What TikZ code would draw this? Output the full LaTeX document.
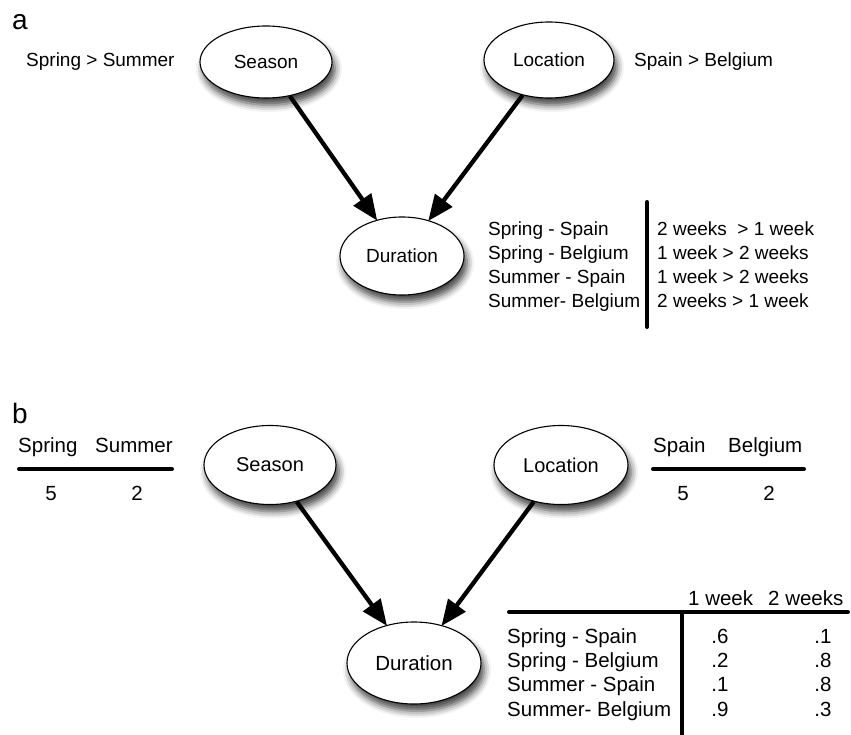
\documentclass[tikz,border=0pt]{standalone}
\usepackage{fontspec}
\setmainfont{Liberation Sans}
\usetikzlibrary{shapes.geometric,arrows.meta,shadows.blur}
\begin{document}
\begin{tikzpicture}[x=1pt,y=-1pt,
  fa/.style={font=\fontsize{19}{22}\selectfont, inner sep=0pt},
  fb/.style={font=\fontsize{20.5}{24}\selectfont, inner sep=0pt},
  bubble/.style={ellipse, draw, line width=1.1pt, fill=white, inner sep=0pt,
    blur shadow={shadow xshift=3pt, shadow yshift=-7pt, shadow blur radius=7pt, shadow opacity=75}},
  arr/.style={line width=4.3pt, -{Triangle[length=26pt,width=21pt]}, shorten >=-1pt},
  rule/.style={line width=4pt, line cap=round},
  lbl/.style={font=\fontsize{28}{30}\selectfont, inner sep=0pt, anchor=base west}
]
\useasboundingbox (0,0) rectangle (851,735);

% ---------------- panel a ----------------
\node[lbl] (la) at (12,30) {a};
\node[bubble, fa, minimum width=132pt, minimum height=72pt] (seasonA) at (266,62) {Season};
\node[bubble, fa, minimum width=130pt, minimum height=76pt] (locA) at (549,60) {Location};
\node[bubble, fa, minimum width=124pt, minimum height=78pt] (durA) at (402,256) {Duration};
\node[fa, anchor=base west] (ssA) at (26,67) {Spring > Summer};
\node[fa, anchor=base west] (sbA) at (634,67) {Spain > Belgium};
\draw[arr] (seasonA) -- (durA);
\draw[arr] (locA) -- (durA);

\node[fa, anchor=base west] (ra1) at (488,236) {Spring - Spain};
\node[fa, anchor=base west] (ra2) at (488,260) {Spring - Belgium};
\node[fa, anchor=base west] (ra3) at (488,283.5) {Summer - Spain};
\node[fa, anchor=base west] (ra4) at (488,307) {Summer- Belgium};
\node[fa, anchor=base west] (va1) at (657,236) {2 weeks \ > 1 week};
\node[fa, anchor=base west] (va2) at (657,260) {1 week > 2 weeks};
\node[fa, anchor=base west] (va3) at (657,283.5) {1 week > 2 weeks};
\node[fa, anchor=base west] (va4) at (657,307) {2 weeks > 1 week};
\coordinate (vtA) at (647,202);
\coordinate (vbA) at (647,327);
\draw[rule] (vtA) -- (vbA);

% ---------------- panel b ----------------
\node[lbl] (lb) at (12,423) {b};
\node[bubble, fa, font=\fontsize{20}{24}\selectfont, minimum width=132pt, minimum height=79pt] (seasonB) at (270,465) {Season};
\node[bubble, fa, font=\fontsize{20}{24}\selectfont, minimum width=134pt, minimum height=79pt] (locB) at (561,465) {Location};
\node[bubble, fb, minimum width=134pt, minimum height=82pt] (durB) at (414,663) {Duration};
\draw[arr] (seasonB) -- (durB);
\draw[arr] (locB) -- (durB);

% Season prior
\node[fb, anchor=base west] (spB) at (18,452) {Spring};
\node[fb, anchor=base west] (suB) at (95,452) {Summer};
\coordinate (s1) at (19,469);
\coordinate (s2) at (172,469);
\draw[rule] (s1) -- (s2);
\node[fb, anchor=base] (p5) at (51,500) {5};
\node[fb, anchor=base] (p2) at (137,500) {2};

% Location prior
\node[fb, anchor=base west] (spnB) at (653,452) {Spain};
\node[fb, anchor=base west] (blB) at (728,452) {Belgium};
\coordinate (l1) at (653,469);
\coordinate (l2) at (804,469);
\draw[rule] (l1) -- (l2);
\node[fb, anchor=base] (q5) at (683,500) {5};
\node[fb, anchor=base] (q2) at (769,500) {2};

% CPT
\node[fb, anchor=base west] (h1) at (688,605) {1 week};
\node[fb, anchor=base west] (h2) at (768,605) {2 weeks};
\coordinate (hl) at (509,612);
\coordinate (hr) at (848,612);
\draw[rule] (hl) -- (hr);
\coordinate (vt) at (682,612);
\coordinate (vb) at (682,735);
\draw[line width=4pt] (vt) -- (vb);

\node[fb, anchor=base west] (rb1) at (507,643) {Spring - Spain};
\node[fb, anchor=base west] (rb2) at (507,667) {Spring - Belgium};
\node[fb, anchor=base west] (rb3) at (507,691.5) {Summer - Spain};
\node[fb, anchor=base west] (rb4) at (507,716) {Summer- Belgium};
\node[fb, anchor=base] (c11) at (720,643) {.6};
\node[fb, anchor=base] (c21) at (720,667) {.2};
\node[fb, anchor=base] (c31) at (720,691.5) {.1};
\node[fb, anchor=base] (c41) at (720,716) {.9};
\node[fb, anchor=base] (c12) at (823,643) {.1};
\node[fb, anchor=base] (c22) at (823,667) {.8};
\node[fb, anchor=base] (c32) at (823,691.5) {.8};
\node[fb, anchor=base] (c42) at (823,716) {.3};
\end{tikzpicture}
\end{document}
